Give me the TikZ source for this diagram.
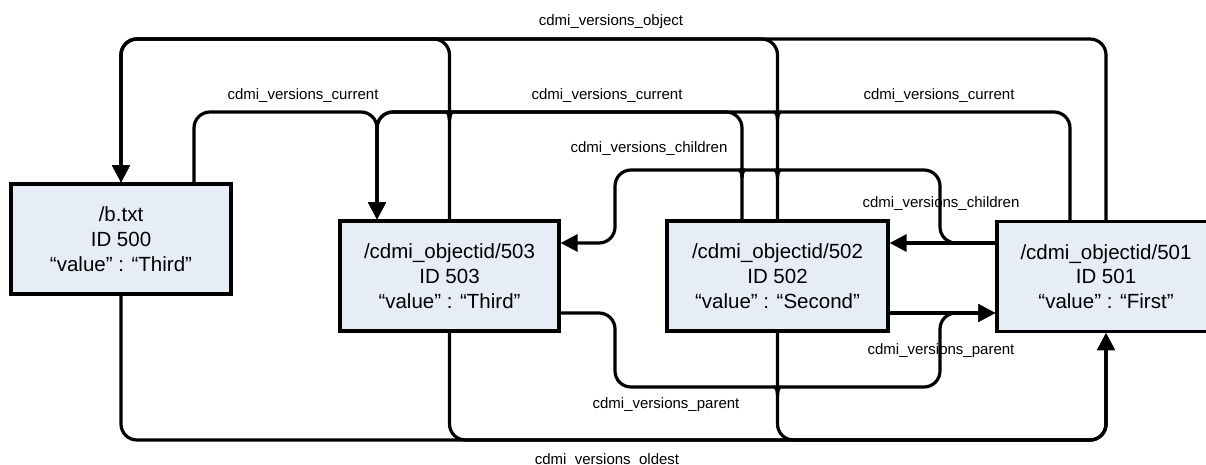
\documentclass[tikz,border=0pt]{standalone}
\usepackage{fontspec}
\setmainfont{Liberation Sans}
\usetikzlibrary{arrows.meta}
\definecolor{boxfill}{RGB}{231,237,247}
\begin{document}
\begin{tikzpicture}[x=1pt,y=-1pt,
  box/.style={draw=black, line width=3.2pt, fill=boxfill, inner sep=0pt,
    minimum height=110pt, align=center, font=\fontsize{20.5}{24.7}\selectfont},
  conn/.style={line width=3.2pt, rounded corners=16pt},
  arr/.style={-{Triangle[length=17pt,width=17pt]}},
  lab/.style={font=\fontsize{15}{18}\selectfont, inner sep=0pt, anchor=base},
  hopR/.style 2 args={insert path={-- ({#1+17},#2) .. controls ({#1+7},#2) and (#1,{#2-3}) .. (#1,{#2-8}) .. controls (#1,{#2-3}) and ({#1-7},#2) .. ({#1-17},#2)}},
  hopL/.style 2 args={insert path={-- ({#1-17},#2) .. controls ({#1-7},#2) and (#1,{#2-3}) .. (#1,{#2-8}) .. controls (#1,{#2-3}) and ({#1+7},#2) .. ({#1+17},#2)}}
]
\useasboundingbox (0,0) rectangle (1206,465);

% boxes
\node[box, minimum width=220pt] (b) at (121,239) {/b.txt\\ID 500\\“value” : “Third”};
\node[box, minimum width=219pt] (n503) at (449.5,276) {/cdmi\_objectid/503\\ID 503\\“value” : “Third”};
\node[box, minimum width=221pt] (n502) at (777.5,276) {/cdmi\_objectid/502\\ID 502\\“value” : “Second”};
\node[box, minimum width=218pt] (n501) at (1106,276.5) {/cdmi\_objectid/501\\ID 501\\“value” : “First”};

% labels
\node[lab] (lobj) at (611,26) {cdmi\_versions\_object};
\node[lab] (lcur1) at (303,100) {cdmi\_versions\_current};
\node[lab] (lcur2) at (607,100) {cdmi\_versions\_current};
\node[lab] (lcur3) at (939,100) {cdmi\_versions\_current};
\node[lab] (lch1) at (649,153) {cdmi\_versions\_children};
\node[lab] (lch2) at (941,207) {cdmi\_versions\_children};
\node[lab] (lpar1) at (941,354) {cdmi\_versions\_parent};
\node[lab] (lpar2) at (666,408) {cdmi\_versions\_parent};
\node[lab] (lold) at (607,464) {cdmi\_versions\_oldest};

% cdmi_versions_object
\draw[conn,arr] (n503.north) -- (449.5,39) -- (121,39) -- (b.north);
\draw[conn,arr] (n502.north) -- (777.5,39) -- (121,39) -- (b.north);
\draw[conn,arr] (n501.north) -- (1106,39) -- (121,39) -- (b.north);

% cdmi_versions_current
\draw[conn,arr] (194,0 |- b.north) -- (194,112) -- (377,112) -- (377,0 |- n503.north);
\draw[conn,arr] (742,0 |- n502.north) -- (742,112) [hopR={449.5}{112}] -- (377,112) -- (377,0 |- n503.north);
\draw[conn,arr] (1070,0 |- n501.north) -- (1070,112) [hopR={777.5}{112}] [hopR={449.5}{112}] -- (377,112) -- (377,0 |- n503.north);

% cdmi_versions_children
\draw[conn,arr] (n501.west |- 0,243) -- (n502.east |- 0,243);
\draw[conn,arr] (n501.west |- 0,243) -- (940,243) -- (940,170) [hopR={777.5}{170}] [hopR={742}{170}] -- (615,170) -- (615,243) -- (n503.east |- 0,243);

% cdmi_versions_parent
\draw[conn,arr] (n502.east |- 0,313) -- (n501.west |- 0,313);
\draw[conn,arr] (n503.east |- 0,313) -- (615,313) -- (615,387) [hopL={777.5}{387}] -- (940,387) -- (940,313) -- (n501.west |- 0,313);

% cdmi_versions_oldest
\draw[conn,arr] (b.south) -- (121,440) -- (1106,440) -- (n501.south);
\draw[conn,arr] (n503.south) -- (449.5,440) -- (1106,440) -- (n501.south);
\draw[conn,arr] (n502.south) -- (777.5,440) -- (1106,440) -- (n501.south);
\end{tikzpicture}
\end{document}
